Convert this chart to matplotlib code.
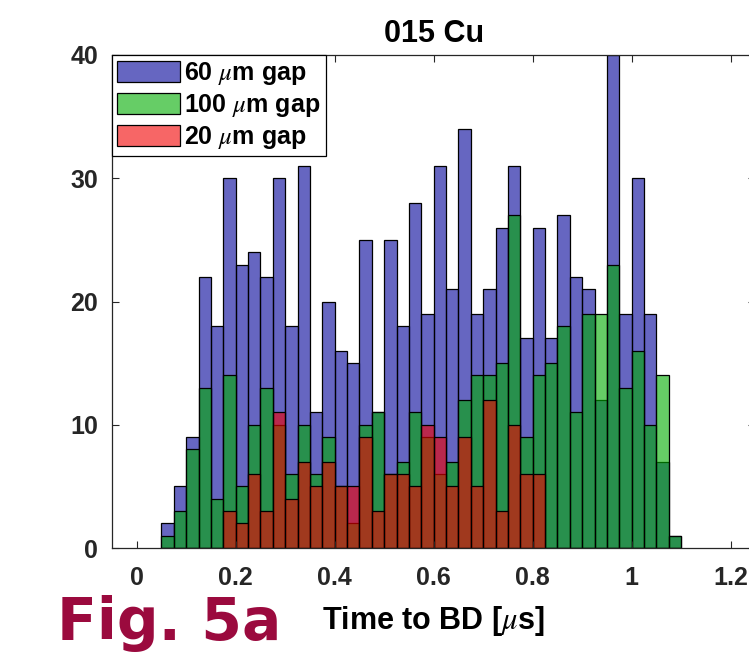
import numpy as np
import matplotlib
matplotlib.use("Agg")
import matplotlib.pyplot as plt

plt.rcParams['font.family'] = ['Liberation Sans', 'DejaVu Sans']
plt.rcParams['mathtext.fontset'] = 'stix'

# Histogram data, bin width 0.025 us, first bin starts at 0.05 us
bin_width = 0.025
bin_left = np.round(0.05 + bin_width * np.arange(42), 3)

# 60 um gap counts
gap60 = [2, 5, 9, 22, 18, 30, 23, 24, 22, 30, 18, 31, 11, 20, 16, 15, 25, 11, 25, 18, 28,
         19, 31, 21, 34, 19, 21, 26, 31, 17, 26, 17, 27, 22, 21, 12, 40, 19, 30, 19, 7, 1]
# 100 um gap counts
gap100 = [1, 3, 8, 13, 4, 14, 5, 10, 13, 10, 6, 10, 6, 9, 5, 2, 10, 11, 6, 7, 11,
          9, 6, 7, 12, 14, 14, 15, 27, 9, 14, 15, 18, 11, 19, 19, 23, 13, 16, 10, 14, 1]
# 20 um gap counts
gap20 = [0, 0, 0, 0, 0, 3, 2, 6, 3, 11, 4, 7, 5, 7, 5, 5, 9, 3, 6, 6, 5,
         10, 9, 5, 9, 5, 12, 3, 10, 6, 6, 0, 0, 0, 0, 0, 0, 0, 0, 0, 0, 0]

labels = [r'60 $\mu$m gap', r'100 $\mu$m gap', r'20 $\mu$m gap']
colors = [(0.0, 0.0, 0.6, 0.6), (0.0, 0.68, 0.0, 0.6), (0.95, 0.0, 0.0, 0.6)]

fig = plt.figure(figsize=(7.49, 6.70), dpi=100)
ax = fig.add_axes([112/749, 122/670, 643.5/749, 493/670])

for counts, col, lab in zip([gap60, gap100, gap20], colors, labels):
    ax.bar(bin_left, counts, width=bin_width, align='edge', facecolor=col,
           edgecolor='black', linewidth=0.9, label=lab)

ax.set_xlim(-0.05, 1.25)
ax.set_ylim(0, 40)
ax.set_xticks([0, 0.2, 0.4, 0.6, 0.8, 1.0, 1.2])
ax.set_xticklabels(['0', '0.2', '0.4', '0.6', '0.8', '1', '1.2'])
ax.set_yticks([0, 10, 20, 30, 40])
ax.tick_params(direction='in', top=True, right=True, length=5, width=0.8,
               labelsize=18, colors='#262626')
ax.tick_params(axis='x', pad=13)
ax.tick_params(axis='y', pad=10)
for lbl in ax.get_xticklabels() + ax.get_yticklabels():
    lbl.set_fontweight('bold')
for sp in ax.spines.values():
    sp.set_linewidth(0.9)
    sp.set_color('#262626')

ax.set_title('015 Cu', fontsize=22, fontweight='bold', pad=9)
ax.set_xlabel(r'Time to BD [$\mu$s]', fontsize=22, fontweight='bold', labelpad=10)

leg = ax.legend(loc='upper left', borderaxespad=0, prop={'weight': 'bold', 'size': 18},
                fancybox=False, edgecolor='black', framealpha=1,
                handlelength=2.5, handleheight=0.95, handletextpad=0.2,
                borderpad=0.2, labelspacing=0.2)
leg.get_frame().set_linewidth(0.9)

fig.text(57/749, 1 - 640/670, 'Fig. 5a', fontsize=42, color='#9b0a3e',
         family='DejaVu Sans', fontweight='bold', va='baseline', ha='left')

fig.savefig('out.png', dpi=100)
